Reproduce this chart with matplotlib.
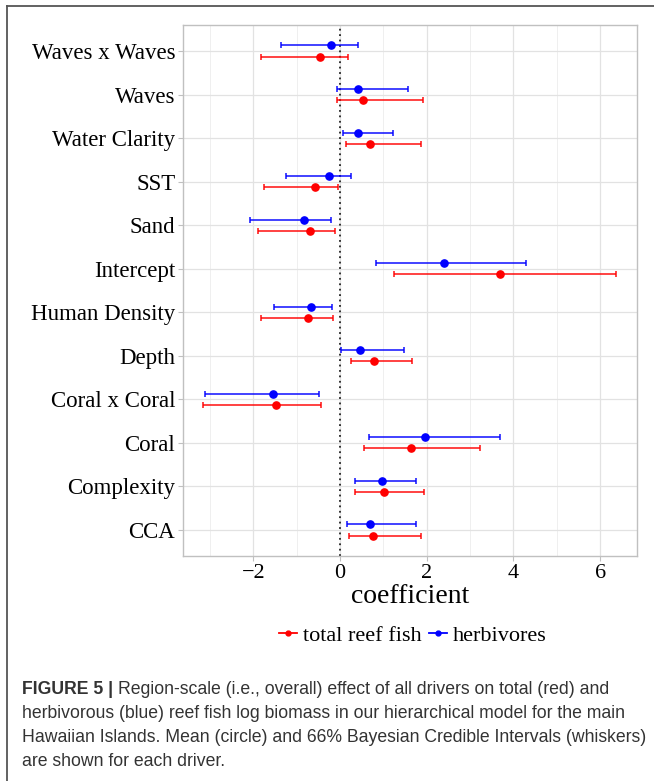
import matplotlib
matplotlib.use("Agg")
import matplotlib.pyplot as plt
from matplotlib.lines import Line2D
import numpy as np

# ---------------- data ----------------
drivers = ["CCA", "Complexity", "Coral", "Coral x Coral", "Depth", "Human Density",
           "Intercept", "Sand", "SST", "Water Clarity", "Waves", "Waves x Waves"]

total_mean = [0.76, 1.02, 1.64, -1.48, 0.79, -0.73, 3.69, -0.68, -0.58, 0.70, 0.53, -0.45]
total_lo   = [0.21, 0.34, 0.55, -3.15, 0.25, -1.81, 1.25, -1.89, -1.75, 0.15, -0.08, -1.83]
total_hi   = [1.86, 1.93, 3.22, -0.43, 1.67, -0.17, 6.37, -0.12, -0.04, 1.87, 1.92, 0.19]

herb_mean = [0.69, 0.97, 1.95, -1.54, 0.47, -0.67, 2.40, -0.84, -0.25, 0.42, 0.41, -0.21]
herb_lo   = [0.16, 0.34, 0.67, -3.12, 0.03, -1.52, 0.82, -2.08, -1.25, 0.07, -0.07, -1.37]
herb_hi   = [1.75, 1.76, 3.69, -0.49, 1.48, -0.18, 4.30, -0.21, 0.25, 1.22, 1.56, 0.42]

series_labels = ["total reef fish", "herbivores"]
x_ticks = [-2, 0, 2, 4, 6]

caption_bold = "FIGURE 5 |"
caption_lines = [
    "Region-scale (i.e., overall) effect of all drivers on total (red) and",
    "herbivorous (blue) reef fish log biomass in our hierarchical model for the main",
    "Hawaiian Islands. Mean (circle) and 66% Bayesian Credible Intervals (whiskers)",
    "are shown for each driver.",
]

# ---------------- figure ----------------
W, H = 654, 781
fig = plt.figure(figsize=(W / 100, H / 100), dpi=100)
serif = ["Liberation Serif", "DejaVu Serif"]

ax = fig.add_axes([183 / W, 1 - 556 / H, (637 - 183) / W, (556 - 25) / H])

y = np.arange(1, len(drivers) + 1)
dodge = 0.13

def draw(mean, lo, hi, color, off):
    m = np.array(mean); l = np.array(lo); h = np.array(hi)
    ax.errorbar(m, y + off, xerr=[m - l, h - m], fmt="none", ecolor=color,
                elinewidth=1.3, capsize=2.2, capthick=1.3, alpha=0.8, zorder=3)
    ax.plot(m, y + off, "o", color=color, markersize=5.2, zorder=4)

draw(total_mean, total_lo, total_hi, "#FF0000", -dodge)
draw(herb_mean, herb_lo, herb_hi, "#0000FF", +dodge)

ax.axvline(0, color="#222222", linestyle=(0, (1, 2)), linewidth=1.3, zorder=2)

ax.set_xlim(-3.62, 6.85)
ax.set_ylim(0.4, 12.6)
ax.set_xticks(x_ticks)
ax.set_xticks([-3, -1, 1, 3, 5], minor=True)
ax.set_yticks(y)
ax.set_yticklabels(drivers)

ax.grid(True, which="major", color="#e2e2e2", linewidth=0.9, zorder=0)
ax.grid(True, which="minor", axis="x", color="#ececec", linewidth=0.6, zorder=0)
ax.set_axisbelow(True)
for s in ax.spines.values():
    s.set_color("#c0c0c0")
    s.set_linewidth(1.0)

ax.tick_params(axis="both", which="major", color="#c0c0c0", length=3.5, width=0.8,
               labelsize=16, pad=2)
ax.tick_params(axis="x", which="minor", length=0)
for lab in ax.get_xticklabels() + ax.get_yticklabels():
    lab.set_family(serif)
    lab.set_color("black")
for lab in ax.get_yticklabels():
    lab.set_fontsize(16.5)

ax.set_xlabel("coefficient", fontsize=20, family=serif, labelpad=1)

handles = [
    Line2D([0], [0], color="#FF0000", marker="o", markersize=3.5, linewidth=1.3),
    Line2D([0], [0], color="#0000FF", marker="o", markersize=3.5, linewidth=1.3),
]
fig.legend(handles, series_labels, loc="center", bbox_to_anchor=(413 / W, 1 - 636 / H),
           ncol=2, frameon=False, prop={"family": serif, "size": 16},
           handlelength=0.8, handletextpad=0.3, columnspacing=0.3)

# outer border of the figure panel
fig.add_artist(Line2D([7 / W, 1.0], [1 - 6 / H, 1 - 6 / H], color="#555555", linewidth=1.3))
fig.add_artist(Line2D([7 / W, 7 / W], [0.0, 1 - 6 / H], color="#555555", linewidth=1.3))

# caption
cap_font = ["Liberation Sans", "DejaVu Sans"]
cap_size = 12.7
cap_color = "#333333"
line_y = [690, 714, 738, 761]
x0 = 22 / W
tb = fig.text(x0, 1 - line_y[0] / H, caption_bold, fontsize=cap_size, family=cap_font,
              weight="bold", color=cap_color, va="center", ha="left")
fig.canvas.draw()
bb = tb.get_window_extent(renderer=fig.canvas.get_renderer())
fig.text(bb.x1 / W + 5 / W, 1 - line_y[0] / H, caption_lines[0], fontsize=cap_size,
         family=cap_font, color=cap_color, va="center", ha="left")
for ly, txt in zip(line_y[1:], caption_lines[1:]):
    fig.text(x0, 1 - ly / H, txt, fontsize=cap_size, family=cap_font, color=cap_color,
             va="center", ha="left")

fig.savefig("out.png", dpi=100)
